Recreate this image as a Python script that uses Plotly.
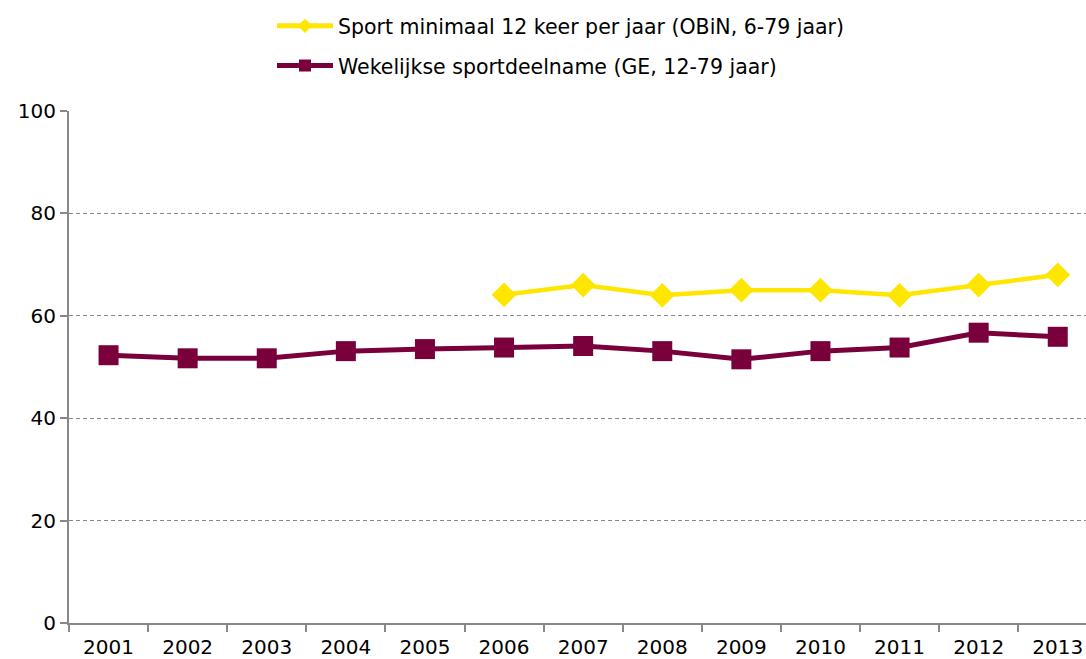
import plotly.graph_objects as go

years = [str(y) for y in range(2001, 2014)]
obin_years = [str(y) for y in range(2006, 2014)]
obin_values = [64.1, 66.0, 64.0, 65.0, 65.0, 64.0, 66.0, 68.0]
ge_values = [52.3, 51.7, 51.7, 53.1, 53.5, 53.8, 54.1, 53.1, 51.5, 53.1, 53.8, 56.7, 55.9]

OBIN_NAME = "Sport minimaal 12 keer per jaar (OBiN, 6-79 jaar)"
GE_NAME = "Wekelijkse sportdeelname (GE, 12-79 jaar)"

YELLOW = "#FFE600"
MAROON = "#7A003C"

fig = go.Figure()
fig.add_trace(go.Scatter(
    x=obin_years, y=obin_values, mode="lines+markers",
    name=OBIN_NAME, showlegend=False,
    line=dict(color=YELLOW, width=4.5),
    marker=dict(symbol="diamond", size=19, color=YELLOW),
))
fig.add_trace(go.Scatter(
    x=years, y=ge_values, mode="lines+markers",
    name=GE_NAME, showlegend=False,
    line=dict(color=MAROON, width=5),
    marker=dict(symbol="square", size=20, color=MAROON),
))
# legend entries (smaller legend markers, as in the original)
fig.add_trace(go.Scatter(
    x=[None], y=[None], mode="lines+markers", name=OBIN_NAME, legendgroup="a",
    line=dict(color=YELLOW, width=5),
    marker=dict(symbol="diamond", size=11, color=YELLOW),
))
fig.add_trace(go.Scatter(
    x=[None], y=[None], mode="lines+markers", name=GE_NAME, legendgroup="b",
    line=dict(color=MAROON, width=5),
    marker=dict(symbol="square", size=12, color=MAROON),
))

fig.update_layout(
    width=1086, height=659,
    margin=dict(l=69, r=0, t=111, b=36, autoexpand=False),
    plot_bgcolor="white", paper_bgcolor="white",
    font=dict(family="DejaVu Sans", size=20, color="#000"),
    legend=dict(
        x=0.1996, y=1.205, xanchor="left", yanchor="top",
        font=dict(size=20.5), tracegroupgap=10, itemwidth=56,
        bgcolor="rgba(0,0,0,0)",
    ),
    showlegend=True,
)
fig.update_xaxes(
    type="category", categoryorder="array", categoryarray=years,
    range=[-0.5, 12.357], tickson="boundaries",
    showline=True, linecolor="#888", linewidth=2,
    ticks="outside", ticklen=7, tickcolor="#888", tickwidth=2,
    showgrid=False, tickfont=dict(size=20), tickangle=0,
    ticklabelstandoff=5,
)
fig.update_yaxes(
    range=[0, 100], dtick=20,
    showline=True, linecolor="#888", linewidth=2,
    ticks="outside", ticklen=7, tickcolor="#888", tickwidth=2,
    showgrid=True, gridcolor="#888", griddash="4px,3px", gridwidth=1,
    zeroline=False, tickfont=dict(size=20),
)

post = (
    "document.body.style.margin='0';"
    "document.documentElement.style.overflow='hidden';"
    "var gd=document.getElementById('{plot_id}');"
    "gd.style.width='1086px';gd.style.height='659px';"
    "Plotly.relayout(gd,{width:1086,height:659});"
)

fig.write_html("out.html", post_script=post, config={"displayModeBar": False})
